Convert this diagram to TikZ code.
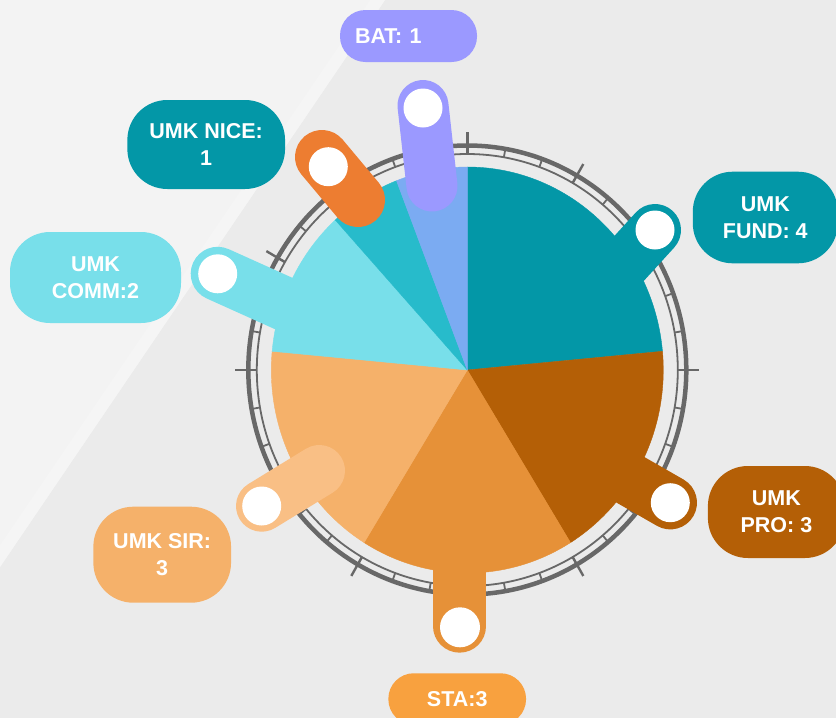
\documentclass[tikz,border=0pt]{standalone}
\usepackage{fontspec}
\setmainfont{Liberation Sans}
\definecolor{bgc}{HTML}{EBEBEB}
\definecolor{bglight}{HTML}{F3F3F3}
\definecolor{bgband}{HTML}{F5F5F5}
\definecolor{ringc}{HTML}{686868}
\definecolor{fundc}{HTML}{0397A7}
\definecolor{proc}{HTML}{B45F06}
\definecolor{stac}{HTML}{E69138}
\definecolor{stalab}{HTML}{F8A13F}
\definecolor{sirc}{HTML}{F5B16A}
\definecolor{sirtube}{HTML}{F9BF85}
\definecolor{commc}{HTML}{78DFEA}
\definecolor{nicec}{HTML}{27BBCB}
\definecolor{nicetube}{HTML}{ED7D31}
\definecolor{batc}{HTML}{7BABF2}
\definecolor{battube}{HTML}{9B99FF}
\newcommand\labfont{\fontsize{21.5}{27}\selectfont\bfseries}
\begin{document}
\begin{tikzpicture}[x=1pt,y=-1pt,
  labbox/.style={text=white, font=\labfont, align=center, inner sep=0pt, rounded corners=#1},
  labbox/.default=40pt,
  pinhole/.style={circle, fill=white, inner sep=0pt, minimum size=39pt},
  tube/.style={line cap=round, line width=#1},
  tube/.default=52pt,
  slice/.style={fill=#1, draw=#1, line width=0.4pt, line join=round}]
\useasboundingbox (0,0) rectangle (836,718);
\clip (0,0) rectangle (836,718);
% background
\fill[bgc] (0,0) rectangle (836,718);
\fill[bglight] (0,0) -- (385,0) -- (0,567) -- cycle;
\fill[bgband] (385,0) -- (0,567) -- (-10,560) -- (375,-7) -- cycle;
% ring
\begin{scope}[shift={(467.3,370)}, x=1pt, y=1.025pt]
  \draw[ringc, line width=4.5pt] (0,0) ellipse [x radius=219pt, y radius=224.5pt];
  \draw[ringc, line width=1.8pt] (0,0) ellipse [x radius=210.5pt, y radius=216pt];
  \foreach \a in {0,10,...,350}
    \draw[ringc, line width=1.8pt] (\a:210.5) -- (\a:219);
  \foreach \a in {0,30,...,330}
    \draw[ringc, line width=2.4pt] (\a:211) -- (\a:232);
\end{scope}
% connector coordinates
\coordinate (fundA) at (567.5,326);
\coordinate (proA) at (557.6,438);
\coordinate (staA) at (459.7,450);
\coordinate (commA) at (327,323);
\coordinate (batA) at (432,186);
\coordinate (batB) at (423,105.5);
\coordinate (niceA) at (358,200);
\coordinate (niceB) at (322,157);
\coordinate (sirA) at (319.3,470.7);
\path (655,230) coordinate (fundP);
\path (670.3,502.7) coordinate (proP);
\path (459.7,626.3) coordinate (staP);
\path (217.7,273.8) coordinate (commP);
\path (261.7,506) coordinate (sirP);
% tubes behind the pie
\draw[tube=52pt, fundc] (fundA) -- (fundP);
\draw[tube=53.4pt, proc] (proA) -- (proP);
\draw[tube=52.7pt, stac] (staA) -- (staP);
\draw[tube=54pt, commc] (commA) -- (commP);
% pie
\begin{scope}[shift={(467.3,370)}, x=1pt, y=1.0357pt]
  \path[slice=fundc] (0,0) -- (90:196) arc [start angle=90, end angle=5.294, x radius=196pt, y radius=203pt] -- cycle;
  \path[slice=proc] (0,0) -- (5.294:196) arc [start angle=5.294, end angle=-58.235, x radius=196pt, y radius=203pt] -- cycle;
  \path[slice=stac] (0,0) -- (-58.235:196) arc [start angle=-58.235, end angle=-121.765, x radius=196pt, y radius=203pt] -- cycle;
  \path[slice=sirc] (0,0) -- (-121.765:196) arc [start angle=-121.765, end angle=-185.294, x radius=196pt, y radius=203pt] -- cycle;
  \path[slice=commc] (0,0) -- (-185.294:196) arc [start angle=-185.294, end angle=-227.647, x radius=196pt, y radius=203pt] -- cycle;
  \path[slice=nicec] (0,0) -- (-227.647:196) arc [start angle=-227.647, end angle=-248.824, x radius=196pt, y radius=203pt] -- cycle;
  \path[slice=batc] (0,0) -- (-248.824:196) arc [start angle=-248.824, end angle=-270, x radius=196pt, y radius=203pt] -- cycle;
\end{scope}
% tubes in front of the pie
\draw[tube=51pt, battube] (batA) -- (batB);
\draw[tube=54pt, nicetube] (niceA) -- (niceB);
\draw[tube=51.4pt, sirtube] (sirA) -- (sirP);
% white pin holes
\node[pinhole] (fundpin) at (fundP) {};
\node[pinhole] (propin) at (proP) {};
\node[pinhole, minimum size=40pt] (stapin) at (460,627.3) {};
\node[pinhole] (commpin) at (commP) {};
\node[pinhole] (sirpin) at (sirP) {};
\node[pinhole] (batpin) at (423,108) {};
\node[pinhole] (nicepin) at (328.3,166.7) {};
% labels
\node[labbox=25.5pt, fill=battube, minimum width=137pt, minimum height=52pt, text width=107pt, align=left] (batlab) at (408.5,36) {BAT: 1};
\node[labbox, fill=fundc, minimum width=157.7pt, minimum height=89pt] (nicelab) at (206.2,144.5) {UMK NICE:\\1};
\node[labbox, fill=fundc, minimum width=145pt, minimum height=91.6pt] (fundlab) at (765.3,217.5) {UMK\\FUND: 4};
\node[labbox, fill=commc, minimum width=171pt, minimum height=91pt] (commlab) at (95.5,277.5) {UMK\\COMM:2};
\node[labbox, fill=proc, minimum width=137pt, minimum height=92pt] (prolab) at (776.4,512) {UMK\\PRO: 3};
\node[labbox, fill=sirc, minimum width=137.7pt, minimum height=96pt] (sirlab) at (162.2,554.7) {UMK SIR:\\3};
\node[labbox=25.5pt, fill=stalab, minimum width=137.7pt, minimum height=51.5pt] (stalabel) at (457.2,699) {STA:3};
\end{tikzpicture}
\end{document}
